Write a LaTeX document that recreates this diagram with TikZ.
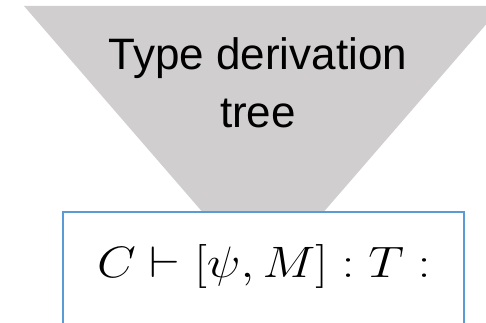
\RequirePackage{fix-cm}
\documentclass[tikz,border=0pt]{standalone}
\usepackage{graphicx}
\usepackage{fontspec}
\setsansfont{Liberation Sans}
\definecolor{trigray}{RGB}{208,206,206}
\definecolor{boxblue}{RGB}{91,155,213}
\tikzset{
  treelabel/.style={font=\sffamily\fontsize{44}{58}\selectfont, align=center, inner sep=0pt, text=black},
  judgebox/.style={draw=boxblue, line width=1.6pt, fill=white, minimum width=401pt, minimum height=140pt, inner sep=0pt, anchor=north west},
  judgetext/.style={font=\fontsize{44}{50}\selectfont, inner sep=0pt, anchor=base west}
}
\begin{document}
\begin{tikzpicture}[x=1pt,y=-1pt]
\useasboundingbox (0,0) rectangle (486,323);
\clip (0,0) rectangle (486,323);
\fill[trigray] (24,6) -- (502,6) -- (263,282) -- cycle;
\node[treelabel, anchor=base] (tree) at (258,128) {Type derivation\\tree};
\node[judgebox] (box) at (62,211) {};
\begin{scope}
\clip (62,211) rectangle (425,323);
\node[judgetext] (judge) at (97,277) {\scalebox{1.14}[1]{$C\vdash[\psi,M]:T:$}};
\end{scope}
\end{tikzpicture}
\end{document}
